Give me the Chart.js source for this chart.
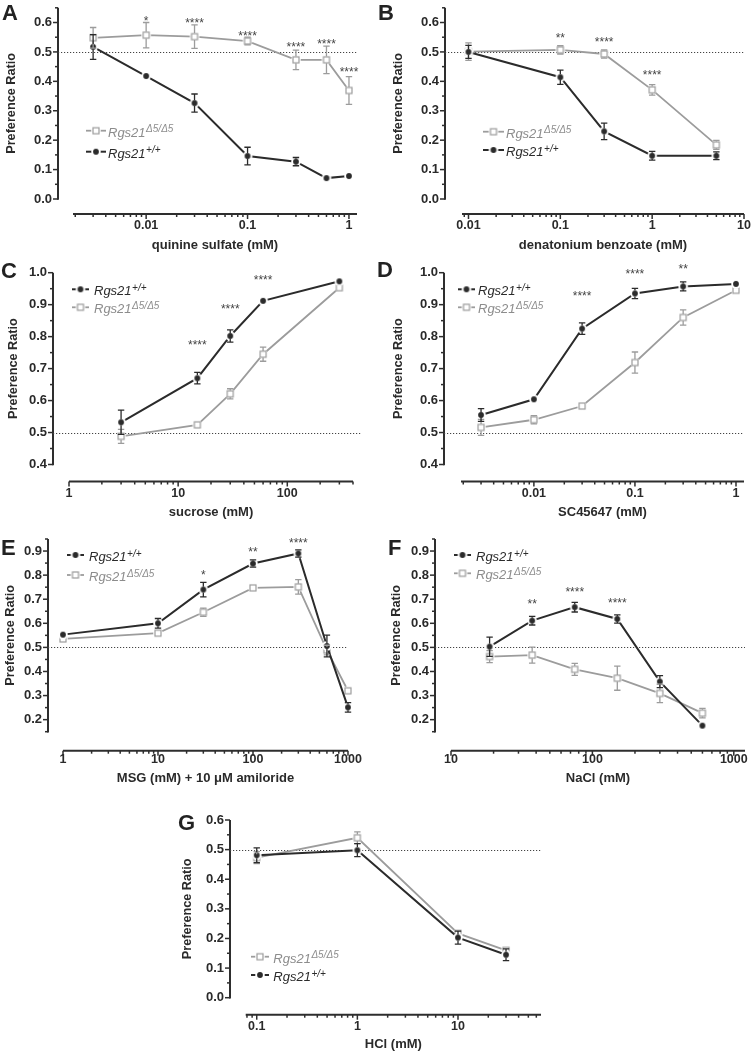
<!DOCTYPE html>
<html><head><meta charset="utf-8"><title>Rgs21 taste preference</title>
<script src="https://cdn.jsdelivr.net/npm/chart.js@4.4.1/dist/chart.umd.min.js"></script>
<style>
html,body{margin:0;padding:0;background:#fff}
body{position:relative;width:752px;height:1053px;overflow:hidden}
canvas{position:absolute}
.letter{position:absolute;font-family:"Liberation Sans",Arial,sans-serif;font-weight:bold;font-size:22px;line-height:1;color:#222}
</style></head><body>
<script>
// ---------------- data ----------------
const xA = [0.003, 0.01, 0.03, 0.1, 0.3, 0.6, 1];
const wtA = [0.517, 0.418, 0.326, 0.146, 0.127, 0.071, 0.078];
const wtErrA = [0.042, 0.008, 0.031, 0.030, 0.014, 0, 0];
const koA = [0.548, 0.557, 0.552, 0.537, 0.473, 0.473, 0.369];
const koErrA = [0.035, 0.043, 0.040, 0.013, 0.033, 0.047, 0.047];
const sigA = ['', '*', '****', '****', '****', '****', '****'];
const sigYA = [0, 0.617, 0.608, 0.566, 0.526, 0.538, 0.442];

const xB = [0.01, 0.1, 0.3, 1, 5];
const wtB = [0.500, 0.414, 0.230, 0.147, 0.147];
const wtErrB = [0.022, 0.024, 0.028, 0.015, 0.013];
const koB = [0.501, 0.507, 0.493, 0.371, 0.184];
const koErrB = [0.030, 0.014, 0.014, 0.018, 0.015];
const sigB = ['', '**', '****', '****', ''];
const sigYB = [0, 0.559, 0.544, 0.432, 0];

const xC = [3, 15, 30, 60, 300];
const wtC = [0.532, 0.670, 0.802, 0.912, 0.973];
const wtErrC = [0.038, 0.018, 0.019, 0, 0];
const koC = [0.488, 0.524, 0.621, 0.745, 0.953];
const koErrC = [0.022, 0.005, 0.016, 0.022, 0.008];
const sigC = ['', '****', '****', '****', ''];
const sigYC = [0, 0.784, 0.895, 0.988, 0];

const xD = [0.003, 0.01, 0.03, 0.1, 0.3, 1];
const wtD = [0.555, 0.604, 0.825, 0.935, 0.957, 0.965];
const wtErrD = [0.020, 0.008, 0.018, 0.016, 0.014, 0];
const koD = [0.516, 0.540, 0.583, 0.719, 0.860, 0.945];
const koErrD = [0.025, 0.013, 0.005, 0.033, 0.024, 0.008];
const sigD = ['', '', '****', '****', '**', ''];
const sigYD = [0, 0, 0.935, 1.006, 1.022, 0];

const xE = [1, 10, 30, 100, 300, 600, 1000];
const wtE = [0.553, 0.600, 0.740, 0.848, 0.890, 0.506, 0.251];
const wtErrE = [0.012, 0.020, 0.030, 0.015, 0.015, 0.045, 0.020];
const koE = [0.535, 0.559, 0.646, 0.747, 0.751, 0.489, 0.320];
const koErrE = [0.010, 0.008, 0.017, 0.008, 0.030, 0.020, 0.013];
const sigE = ['', '', '*', '**', '****', '', ''];
const sigYE = [0, 0, 0.814, 0.907, 0.946, 0, 0];

const xF = [18.75, 37.5, 75, 150, 300, 600];
const wtF = [0.503, 0.611, 0.667, 0.618, 0.358, 0.175];
const wtErrF = [0.040, 0.018, 0.020, 0.017, 0.025, 0.012];
const koF = [0.462, 0.468, 0.409, 0.372, 0.309, 0.227];
const koErrF = [0.025, 0.033, 0.025, 0.050, 0.038, 0.020];
const sigF = ['', '**', '****', '****', '', ''];
const sigYF = [0, 0.692, 0.742, 0.698, 0, 0];

const xG = [0.1, 1, 10, 30];
const wtG = [0.481, 0.498, 0.203, 0.145];
const wtErrG = [0.025, 0.022, 0.022, 0.020];
const koG = [0.473, 0.540, 0.217, 0.160];
const koErrG = [0.020, 0.020, 0.008, 0.010];

// tick values / labels
const yTicks00 = [0, 0.1, 0.2, 0.3, 0.4, 0.5, 0.6];
const yLabels00 = ['0.0', '0.1', '0.2', '0.3', '0.4', '0.5', '0.6'];
const yTicks04 = [0.4, 0.5, 0.6, 0.7, 0.8, 0.9, 1.0];
const yLabels04 = ['0.4', '0.5', '0.6', '0.7', '0.8', '0.9', '1.0'];
const yTicks02 = [0.2, 0.3, 0.4, 0.5, 0.6, 0.7, 0.8, 0.9];
const yLabels02 = ['0.2', '0.3', '0.4', '0.5', '0.6', '0.7', '0.8', '0.9'];
const xTicksA = [0.01, 0.1, 1];          const xLabelsA = ['0.01', '0.1', '1'];
const xTicksB = [0.01, 0.1, 1, 10];      const xLabelsB = ['0.01', '0.1', '1', '10'];
const xTicksC = [1, 10, 100];            const xLabelsC = ['1', '10', '100'];
const xTicksE = [1, 10, 100, 1000];      const xLabelsE = ['1', '10', '100', '1000'];
const xTicksF = [10, 100, 1000];         const xLabelsF = ['10', '100', '1000'];
const xTicksG = [0.1, 1, 10];            const xLabelsG = ['0.1', '1', '10'];

const seriesNames = { wt: ['Rgs21', '+/+'], ko: ['Rgs21', 'Δ5/Δ5'] };
const yTitle = 'Preference Ratio';

// ---------------- styles ----------------
const FONT = '"Liberation Sans", Arial, Helvetica, sans-serif';
const TEXT = '#2a2a2a';
const AXIS = '#2e2e2e';
const DARK = '#2b2b2b';
const GRAY = '#9c9c9c';
const TICK_FS = 12.5, TITLE_FS = 13, YTITLE_FS = 12.7, LH = 1.2;

function makeMarker(kind, color) {
  const s = 14, c = document.createElement('canvas');
  c.width = s; c.height = s;
  const g = c.getContext('2d');
  g.fillStyle = '#fff';
  g.beginPath(); g.arc(s / 2, s / 2, 4.8, 0, Math.PI * 2); g.fill();
  if (kind === 'circle') {
    g.fillStyle = color; g.beginPath(); g.arc(s / 2, s / 2, 2.9, 0, Math.PI * 2); g.fill();
  } else {
    g.fillStyle = '#fff'; g.strokeStyle = color; g.lineWidth = 1.2;
    g.fillRect(4, 4, 6, 6); g.strokeRect(4, 4, 6, 6);
  }
  return c;
}
const STY = {
  wt: { color: DARK, text: '#2b2b2b', marker: makeMarker('circle', DARK), r: 2.9, lw: 2 },
  ko: { color: GRAY, text: '#8c8c8c', marker: makeMarker('square', GRAY), r: 3.3, lw: 1.8 }
};

// ---------------- panels (layout) ----------------
const panels = [
  { id: 'A', canvas: { x: 0, y: 0, w: 376, h: 256 }, area: { l: 73, r: 357, t: 6.1, b: 199 },
    xMin: 0.0019, xMax: 1.2, yMin: 0, yMax: 0.65, yTicks: yTicks00, yLabels: yLabels00,
    xTicks: xTicksA, xLabels: xLabelsA, xTitle: 'quinine sulfate (mM)',
    yTitleX: 11, xLabelY: 225.5, xTitleY: 245, offY: 15, offX: 15, refExtra: 0,
    series: [{ kind: 'wt', x: xA, y: wtA, err: wtErrA }, { kind: 'ko', x: xA, y: koA, err: koErrA }],
    sig: { x: xA, text: sigA, y: sigYA },
    legend: { x1: 86, x2: 106, tx: 108, rows: [{ kind: 'ko', y: 130.7 }, { kind: 'wt', y: 151.7 }] } },
  { id: 'B', canvas: { x: 376, y: 0, w: 390, h: 256 }, area: { l: 462, r: 744, t: 6.1, b: 199 },
    xMin: 0.0085, xMax: 10, yMin: 0, yMax: 0.65, yTicks: yTicks00, yLabels: yLabels00,
    xTicks: xTicksB, xLabels: xLabelsB, xTitle: 'denatonium benzoate (mM)',
    yTitleX: 398, xLabelY: 225.5, xTitleY: 245, offY: 17, offX: 15, refExtra: 0,
    series: [{ kind: 'wt', x: xB, y: wtB, err: wtErrB }, { kind: 'ko', x: xB, y: koB, err: koErrB }],
    sig: { x: xB, text: sigB, y: sigYB },
    legend: { x1: 483, x2: 504, tx: 506, rows: [{ kind: 'ko', y: 131.7 }, { kind: 'wt', y: 150 }] } },
  { id: 'C', canvas: { x: 0, y: 256, w: 376, h: 266 }, area: { l: 69, r: 353, t: 272.7, b: 464.5 },
    xMin: 1, xMax: 400, yMin: 0.4, yMax: 1.0, yTicks: yTicks04, yLabels: yLabels04,
    xTicks: xTicksC, xLabels: xLabelsC, xTitle: 'sucrose (mM)',
    yTitleX: 13, xLabelY: 494, xTitleY: 512.7, offY: 16, offX: 17, refExtra: 9,
    series: [{ kind: 'wt', x: xC, y: wtC, err: wtErrC }, { kind: 'ko', x: xC, y: koC, err: koErrC }],
    sig: { x: xC, text: sigC, y: sigYC },
    legend: { x1: 72, x2: 89, tx: 94, rows: [{ kind: 'wt', y: 289.3 }, { kind: 'ko', y: 307.3 }] } },
  { id: 'D', canvas: { x: 376, y: 256, w: 390, h: 266 }, area: { l: 461, r: 744, t: 272.7, b: 464.5 },
    xMin: 0.0019, xMax: 1.2, yMin: 0.4, yMax: 1.0, yTicks: yTicks04, yLabels: yLabels04,
    xTicks: xTicksA, xLabels: xLabelsA, xTitle: 'SC45647 (mM)',
    yTitleX: 398, xLabelY: 494, xTitleY: 512.7, offY: 17, offX: 17, refExtra: 0,
    series: [{ kind: 'wt', x: xD, y: wtD, err: wtErrD }, { kind: 'ko', x: xD, y: koD, err: koErrD }],
    sig: { x: xD, text: sigD, y: sigYD },
    legend: { x1: 458, x2: 475, tx: 478, rows: [{ kind: 'wt', y: 289.3 }, { kind: 'ko', y: 307.3 }] } },
  { id: 'E', canvas: { x: 0, y: 522, w: 376, h: 268 }, area: { l: 63, r: 348, t: 539, b: 731.7 },
    xMin: 1, xMax: 1000, yMin: 0.15, yMax: 0.95, yTicks: yTicks02, yLabels: yLabels02,
    xTicks: xTicksE, xLabels: xLabelsE, xTitle: 'MSG (mM) + 10 μM amiloride',
    yTitleX: 10, xLabelY: 760, xTitleY: 778, offY: 15, offX: 19, refExtra: 0,
    series: [{ kind: 'wt', x: xE, y: wtE, err: wtErrE }, { kind: 'ko', x: xE, y: koE, err: koErrE }],
    sig: { x: xE, text: sigE, y: sigYE },
    legend: { x1: 67, x2: 84, tx: 89, rows: [{ kind: 'wt', y: 555 }, { kind: 'ko', y: 575 }] } },
  { id: 'F', canvas: { x: 376, y: 522, w: 390, h: 268 }, area: { l: 451, r: 745, t: 539, b: 731.7 },
    xMin: 10, xMax: 1200, yMin: 0.15, yMax: 0.95, yTicks: yTicks02, yLabels: yLabels02,
    xTicks: xTicksF, xLabels: xLabelsF, xTitle: 'NaCl (mM)',
    yTitleX: 396, xLabelY: 760, xTitleY: 778, offY: 16, offX: 19, refExtra: 0,
    series: [{ kind: 'wt', x: xF, y: wtF, err: wtErrF }, { kind: 'ko', x: xF, y: koF, err: koErrF }],
    sig: { x: xF, text: sigF, y: sigYF },
    legend: { x1: 454, x2: 471, tx: 476, rows: [{ kind: 'wt', y: 555 }, { kind: 'ko', y: 573.3 }] } },
  { id: 'G', canvas: { x: 170, y: 798, w: 400, h: 255 }, area: { l: 245.7, r: 541, t: 820, b: 997.7 },
    xMin: 0.0777, xMax: 66.8, yMin: 0, yMax: 0.6, yTicks: yTicks00, yLabels: yLabels00,
    xTicks: xTicksG, xLabels: xLabelsG, xTitle: 'HCl (mM)',
    yTitleX: 187, xLabelY: 1027, xTitleY: 1044, offY: 15.7, offX: 17, refExtra: 0,
    series: [{ kind: 'wt', x: xG, y: wtG, err: wtErrG }, { kind: 'ko', x: xG, y: koG, err: koErrG }],
    sig: null,
    legend: { x1: 251, x2: 269, tx: 273.3, rows: [{ kind: 'ko', y: 956.7 }, { kind: 'wt', y: 975 }] } }
];
const letters = [['A', 2, 2], ['B', 378, 2], ['C', 1, 260], ['D', 377, 259], ['E', 1, 537], ['F', 388, 537], ['G', 178, 812]];

// ---------------- plugin ----------------
function prismPlugin(p) {
  return {
    id: 'prism' + p.id,
    beforeDatasetsDraw(chart) {
      const { ctx, chartArea: a, scales: { x: xs, y: ys } } = chart;
      ctx.save();
      ctx.strokeStyle = AXIS;
      // y axis
      const ax = a.left - p.offY;
      const yTop = ys.getPixelForValue(p.yMax), yBot = ys.getPixelForValue(p.yMin);
      ctx.lineWidth = 2;
      ctx.beginPath(); ctx.moveTo(ax, yTop); ctx.lineTo(ax, yBot + 0.75); ctx.stroke();
      ctx.lineWidth = 1.5;
      for (const v of p.yTicks) {
        const py = ys.getPixelForValue(v);
        ctx.beginPath(); ctx.moveTo(ax - 5, py); ctx.lineTo(ax, py); ctx.stroke();
      }
      const step = p.yTicks[1] - p.yTicks[0];
      for (let v = p.yTicks[0] - step / 2; v <= p.yMax + 1e-9; v += step) {
        if (v < p.yMin - 1e-9) continue;
        const py = ys.getPixelForValue(v);
        ctx.beginPath(); ctx.moveTo(ax - 3, py); ctx.lineTo(ax, py); ctx.stroke();
      }
      // x axis
      const ay = a.bottom + p.offX;
      ctx.lineWidth = 2;
      ctx.beginPath(); ctx.moveTo(a.left, ay); ctx.lineTo(a.right, ay); ctx.stroke();
      ctx.lineWidth = 1.5;
      const e0 = Math.floor(Math.log10(p.xMin)), e1 = Math.ceil(Math.log10(p.xMax));
      for (let e = e0; e <= e1; e++) {
        for (let k = 1; k <= 9; k++) {
          const v = k * Math.pow(10, e);
          if (v < p.xMin * 0.999 || v > p.xMax * 1.001) continue;
          const px = xs.getPixelForValue(v);
          ctx.beginPath(); ctx.moveTo(px, ay); ctx.lineTo(px, ay + (k === 1 ? 5 : 3)); ctx.stroke();
        }
      }
      // reference line at 0.5
      const ry = Math.round(ys.getPixelForValue(0.5)) + 0.5;
      ctx.strokeStyle = '#444'; ctx.lineWidth = 1; ctx.setLineDash([1.2, 1.8]);
      ctx.beginPath(); ctx.moveTo(ax, ry); ctx.lineTo(a.right + p.refExtra, ry); ctx.stroke();
      ctx.restore();
    },
    afterDatasetsDraw(chart) {
      const { ctx, scales: { x: xs, y: ys } } = chart;
      const ox = p.canvas.x, oy = p.canvas.y;
      ctx.save();
      // error bars
      const dss = chart.data.datasets;
      for (let i = dss.length - 1; i >= 0; i--) {
        const ds = dss[i], meta = chart.getDatasetMeta(i), st = STY[ds.kind];
        ctx.strokeStyle = st.color; ctx.lineWidth = 1.3; ctx.setLineDash([]);
        meta.data.forEach((el, j) => {
          const e = ds.errs[j];
          if (!e) return;
          const v = ds.data[j].y;
          const pt = ys.getPixelForValue(v + e), pb = ys.getPixelForValue(v - e);
          ctx.beginPath();
          if (el.y - pt > st.r) {
            ctx.moveTo(el.x, el.y - st.r); ctx.lineTo(el.x, pt);
            ctx.moveTo(el.x - 3.2, pt); ctx.lineTo(el.x + 3.2, pt);
          }
          if (pb - el.y > st.r) {
            ctx.moveTo(el.x, el.y + st.r); ctx.lineTo(el.x, pb);
            ctx.moveTo(el.x - 3.2, pb); ctx.lineTo(el.x + 3.2, pb);
          }
          ctx.stroke();
        });
      }
      // significance asterisks
      if (p.sig) {
        ctx.fillStyle = '#444'; ctx.font = '12px ' + FONT;
        ctx.textAlign = 'center'; ctx.textBaseline = 'alphabetic';
        p.sig.text.forEach((t, i) => {
          if (!t) return;
          ctx.fillText(t, xs.getPixelForValue(p.sig.x[i]), ys.getPixelForValue(p.sig.y[i]) + 7);
        });
      }
      // legend
      const L = p.legend;
      for (const row of L.rows) {
        const st = STY[row.kind];
        const y = row.y - oy;
        ctx.strokeStyle = st.color; ctx.lineWidth = st.lw; ctx.setLineDash([]);
        ctx.beginPath(); ctx.moveTo(L.x1 - ox, y); ctx.lineTo(L.x2 - ox, y); ctx.stroke();
        const m = st.marker;
        ctx.drawImage(m, (L.x1 + L.x2) / 2 - ox - m.width / 2, y - m.height / 2);
        ctx.fillStyle = st.text; ctx.textAlign = 'left'; ctx.textBaseline = 'alphabetic';
        const base = y + 6;
        const tx = L.tx - ox;
        ctx.font = 'italic 13px ' + FONT;
        ctx.fillText(seriesNames[row.kind][0], tx, base);
        const w = ctx.measureText(seriesNames[row.kind][0]).width;
        ctx.font = 'italic 10px ' + FONT;
        ctx.fillText(seriesNames[row.kind][1], tx + w + 0.5, base - 4.5);
      }
      ctx.restore();
    }
  };
}

// ---------------- build ----------------
function build(p) {
  const c = p.canvas, a = p.area;
  const cv = document.createElement('canvas');
  cv.width = c.w; cv.height = c.h;
  cv.style.left = c.x + 'px'; cv.style.top = c.y + 'px';
  cv.style.width = c.w + 'px'; cv.style.height = c.h + 'px';
  document.body.appendChild(cv);
  const yW = a.l - c.x;
  const xH = p.xTitleY - a.b + TITLE_FS * LH / 2 + 1;
  const datasets = p.series.map(s => ({
    data: s.x.map((xv, i) => ({ x: xv, y: s.y[i] })),
    borderColor: STY[s.kind].color, backgroundColor: STY[s.kind].color,
    borderWidth: STY[s.kind].lw, pointStyle: STY[s.kind].marker,
    pointRadius: 4, pointHoverRadius: 4, fill: false, tension: 0, clip: false,
    errs: s.err, kind: s.kind
  }));
  new Chart(cv, {
    type: 'line',
    data: { datasets },
    options: {
      responsive: false, animation: false, devicePixelRatio: 1, events: [],
      layout: { padding: { left: 0, top: a.t - c.y, right: c.x + c.w - a.r, bottom: Math.max(0, c.y + c.h - a.b - xH) } },
      plugins: { legend: { display: false }, tooltip: { enabled: false } },
      scales: {
        x: {
          type: 'logarithmic', position: 'bottom', min: p.xMin, max: p.xMax, bounds: 'data',
          grid: { display: false, drawTicks: true, tickLength: p.xLabelY - a.b - TICK_FS * LH / 2 },
          border: { display: false },
          afterBuildTicks: s => { s.ticks = p.xTicks.map(v => ({ value: v })); },
          afterFit: s => { s.height = xH; },
          ticks: { autoSkip: false, maxRotation: 0, minRotation: 0, padding: 0, color: TEXT,
            font: { family: FONT, size: TICK_FS, weight: 'bold' },
            callback: (v, i) => p.xLabels[i] },
          title: { display: true, text: p.xTitle, color: TEXT,
            font: { family: FONT, size: TITLE_FS, weight: 'bold' }, padding: { top: 0, bottom: 1 } }
        },
        y: {
          type: 'linear', position: 'left', min: p.yMin, max: p.yMax, bounds: 'data',
          grid: { display: false, drawTicks: true, tickLength: p.offY + 6 },
          border: { display: false },
          afterBuildTicks: s => { s.ticks = p.yTicks.map(v => ({ value: v })); },
          afterFit: s => { s.width = yW; },
          ticks: { autoSkip: false, padding: 0, color: TEXT,
            font: { family: FONT, size: 13, weight: 'bold' },
            callback: (v, i) => p.yLabels[i] },
          title: { display: true, text: yTitle, color: TEXT,
            font: { family: FONT, size: YTITLE_FS, weight: 'bold' },
            padding: { top: Math.max(0, p.yTitleX - c.x - YTITLE_FS * LH / 2), bottom: 0 } }
        }
      }
    },
    plugins: [prismPlugin(p)]
  });
}
panels.forEach(build);
letters.forEach(([t, x, y]) => {
  const d = document.createElement('div');
  d.className = 'letter'; d.textContent = t;
  d.style.left = x + 'px'; d.style.top = y + 'px';
  document.body.appendChild(d);
});
</script>
</body></html>
